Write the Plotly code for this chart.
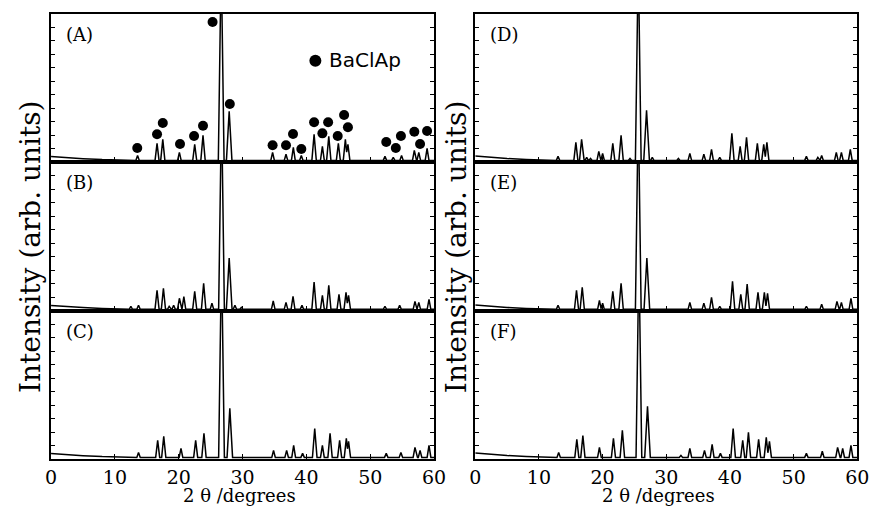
import plotly.graph_objects as go

# ---------------- data: XRD patterns (2theta in degrees, intensity in arb. units) ----------------
# Each pattern: peak positions and peak heights above the baseline
a_pos = [13.55, 16.6, 17.5, 20.1, 22.5, 23.8, 26.65, 27.9, 34.7, 36.8, 37.95, 39.2,
         41.2, 42.5, 43.5, 45.0, 46.1, 46.5, 52.3, 53.6, 54.9, 56.9, 57.6, 58.9]
a_int = [3.7, 12.6, 15.6, 5.9, 11.9, 18.6, 150, 36.4, 5.9, 4.5, 9.7, 3.7,
         19.3, 10.4, 17.8, 12.6, 15.6, 11.9, 3.0, 2.2, 3.7, 7.4, 5.9, 8.9]

b_pos = [12.5, 13.7, 16.6, 17.6, 18.5, 19.2, 20.1, 20.8, 22.5, 23.9, 25.2, 26.7, 27.9,
         28.8, 29.8, 34.8, 36.8, 37.9, 39.3, 41.2, 42.5, 43.5, 45.1, 46.2, 46.6,
         52.3, 54.6, 57.0, 57.6, 59.2]
b_int = [2.2, 3.0, 14.1, 15.6, 2.2, 3.0, 8.2, 9.4, 13.4, 19.3, 4.5, 150, 37.9,
         3.0, 1.5, 6.2, 5.2, 9.7, 3.0, 20.1, 10.4, 17.8, 11.1, 12.6, 10.4,
         2.2, 3.0, 5.9, 5.2, 7.4]

c_pos = [13.7, 16.7, 17.65, 20.35, 22.65, 23.95, 26.7, 28.0, 34.85, 36.9, 38.0, 39.4,
         41.3, 42.5, 43.7, 45.2, 46.25, 46.6, 52.5, 54.8, 57.0, 57.8, 59.2]
c_int = [3.7, 12.6, 15.6, 6.7, 12.6, 17.8, 150, 36.4, 5.2, 5.2, 8.9, 3.0,
         21.5, 8.9, 17.8, 12.6, 14.1, 11.9, 3.0, 3.7, 7.4, 5.2, 8.9]

d_pos = [13.0, 15.8, 16.7, 17.5, 18.1, 19.4, 20.0, 21.6, 22.9, 24.3, 25.6, 26.9, 27.8,
         31.9, 33.7, 35.9, 37.1, 38.4, 40.3, 41.6, 42.6, 44.3, 45.3, 45.8,
         52.0, 53.8, 54.4, 56.7, 57.5, 58.9]
d_int = [3.0, 13.4, 15.6, 2.2, 1.5, 6.7, 5.2, 12.6, 18.6, 1.5, 150, 37.2, 2.2,
         1.5, 5.2, 4.5, 8.2, 2.2, 20.1, 10.4, 17.1, 12.6, 11.9, 13.4,
         3.0, 2.2, 3.7, 5.9, 5.9, 8.2]

e_pos = [13.0, 15.9, 16.8, 19.5, 20.0, 21.6, 22.9, 25.6, 26.95, 33.7, 35.9, 37.1, 38.4,
         40.4, 41.7, 42.7, 44.4, 45.4, 45.9, 52.0, 54.4, 56.8, 57.5, 59.0]
e_int = [3.0, 14.1, 16.3, 6.7, 4.5, 13.4, 19.3, 150, 37.9, 5.2, 4.5, 8.9, 2.2,
         20.8, 11.1, 18.6, 12.6, 12.6, 11.9, 2.2, 3.7, 5.9, 5.2, 8.2]

f_pos = [13.1, 15.95, 16.9, 19.5, 21.7, 23.1, 25.7, 27.05, 32.3, 33.7, 36.0, 37.2, 38.5,
         40.5, 42.0, 42.9, 44.5, 45.7, 46.2, 52.0, 54.5, 56.9, 57.7, 59.0]
f_int = [3.7, 13.4, 16.3, 7.4, 14.1, 20.1, 150, 37.9, 1.5, 6.7, 5.2, 9.7, 3.0,
         21.5, 12.6, 18.6, 13.4, 14.9, 11.9, 3.0, 4.5, 7.4, 6.7, 8.9]

# low-angle background (air scatter) for each column of panels
bg_left_x = [0, 2, 5, 8, 11.5]
bg_left_y = [4.0, 3.3, 2.5, 1.8, 1.3]
bg_right_x = [0, 2, 5, 8, 11.5]
bg_right_y = [4.4, 3.5, 2.6, 1.9, 1.3]
baseline = 1.2

# BaClAp reflections marked in pattern (A)
dot_x = [13.5, 16.6, 17.5, 20.2, 22.4, 23.8, 25.3, 28.0, 34.7, 36.8, 37.9, 39.2,
         41.2, 42.5, 43.4, 44.9, 45.9, 46.5, 52.5, 54.0, 54.8, 56.9, 57.8, 58.9]
dot_y = [10.4, 20.6, 29.0, 13.4, 19.3, 27.0, 104.0, 43.1, 12.4, 12.4, 20.8, 9.7,
         29.5, 21.3, 29.5, 19.3, 34.9, 25.8, 14.9, 10.4, 19.3, 22.5, 13.4, 23.0]

panel_names = ["(A)", "(B)", "(C)", "(D)", "(E)", "(F)"]
x_ticks = [0, 10, 20, 30, 40, 50, 60]
x_title = "2 θ /degrees"
y_title = "Intensity (arb. units)"
legend_label = "BaClAp"

# ---------------- drawing ----------------
W, H = 885, 507
SERIF = "DejaVu Serif"


def pattern_line(pos, inten, bgx, bgy):
    """Polyline of a diffraction pattern: narrow triangular peaks on a baseline."""
    hw = [min(0.25 + 0.005 * h, 0.45) for h in inten]
    pts = set()
    for p, w in zip(pos, hw):
        pts.update([p - w, p, p + w])
    sp = sorted(pos)
    for a, b in zip(sp[:-1], sp[1:]):
        pts.add((a + b) / 2)
    xs = sorted(pts)
    ys = []
    for x in xs:
        v = 0.0
        for p, h, w in zip(pos, inten, hw):
            v = max(v, h * (1 - abs(x - p) / w))
        ys.append(baseline + v)
    return list(bgx) + xs + [60], list(bgy) + ys + [baseline]


patterns = [
    (a_pos, a_int, bg_left_x, bg_left_y),
    (b_pos, b_int, bg_left_x, bg_left_y),
    (c_pos, c_int, bg_left_x, bg_left_y),
    (d_pos, d_int, bg_right_x, bg_right_y),
    (e_pos, e_int, bg_right_x, bg_right_y),
    (f_pos, f_int, bg_right_x, bg_right_y),
]

col_dom = [[46 / W, 437 / W], [479 / W, 869 / W]]
row_px = [(14, 162), (162, 311), (311, 459)]

fig = go.Figure()
layout_axes = {}
annotations = []

for i, (pos, inten, bgx, bgy) in enumerate(patterns):
    col = i // 3
    row = i % 3
    n = i + 1
    xa = "x" if n == 1 else f"x{n}"
    ya = "y" if n == 1 else f"y{n}"
    xs, ys = pattern_line(pos, inten, bgx, bgy)
    fig.add_trace(go.Scatter(x=xs, y=ys, mode="lines", xaxis=xa, yaxis=ya,
                             line=dict(color="black", width=1.5),
                             hoverinfo="skip", showlegend=False))
    top, bot = row_px[row]
    bottom_row = row == 2
    layout_axes["xaxis" if n == 1 else f"xaxis{n}"] = dict(
        domain=col_dom[col], anchor=ya, range=[0, 60],
        tickvals=x_ticks, ticktext=[str(t) for t in x_ticks],
        showticklabels=bottom_row, ticks="inside", ticklen=5, tickwidth=1.2,
        tickcolor="black", showline=True, linecolor="black", linewidth=1.8,
        mirror=True, showgrid=False, zeroline=False,
        tickfont=dict(family=SERIF, size=19, color="black"),
        ticklabelstandoff=0,
    )
    layout_axes["yaxis" if n == 1 else f"yaxis{n}"] = dict(
        domain=[(H - bot) / H, (H - top) / H], anchor=xa, range=[0, 110],
        dtick=10, showticklabels=False, ticks="inside", ticklen=4,
        tickwidth=1, tickcolor="black", showline=True, linecolor="black",
        linewidth=1.8, mirror="ticks", showgrid=False, zeroline=False,
    )
    annotations.append(dict(
        xref=f"{xa} domain", yref=f"{ya} domain", x=13 / 391, y=1 - 20 / 148,
        xanchor="left", yanchor="middle", text=panel_names[i], showarrow=False,
        font=dict(family=SERIF, size=18, color="black"),
    ))

# BaClAp markers on pattern (A)
fig.add_trace(go.Scatter(x=dot_x, y=dot_y, mode="markers", xaxis="x", yaxis="y",
                         marker=dict(color="black", size=10),
                         hoverinfo="skip", showlegend=False))
# legend key
fig.add_trace(go.Scatter(x=[41.4], y=[75.3], mode="markers", xaxis="x", yaxis="y",
                         marker=dict(color="black", size=12),
                         hoverinfo="skip", showlegend=False))
annotations.append(dict(xref="x", yref="y", x=43.2, y=75.5, xanchor="left",
                        yanchor="middle", text=legend_label, showarrow=False,
                        font=dict(family="DejaVu Sans", size=20, color="black")))

# axis titles
for cx in (238.5, 666):
    annotations.append(dict(xref="paper", yref="paper", x=cx / W, y=0,
                            xanchor="center", yanchor="bottom", text=x_title,
                            showarrow=False, borderpad=0,
                            font=dict(family=SERIF, size=18, color="black")))
for cx in (25, 460):
    annotations.append(dict(xref="paper", yref="paper", x=cx / W, y=(H - 246.5) / H,
                            xanchor="center", yanchor="middle", text=y_title,
                            textangle=-90, showarrow=False,
                            font=dict(family=SERIF, size=28, color="black")))

fig.update_layout(width=W, height=H, margin=dict(l=0, r=0, t=0, b=0),
                  paper_bgcolor="white", plot_bgcolor="white",
                  showlegend=False, annotations=annotations, **layout_axes)

fig.write_html("out.html")
